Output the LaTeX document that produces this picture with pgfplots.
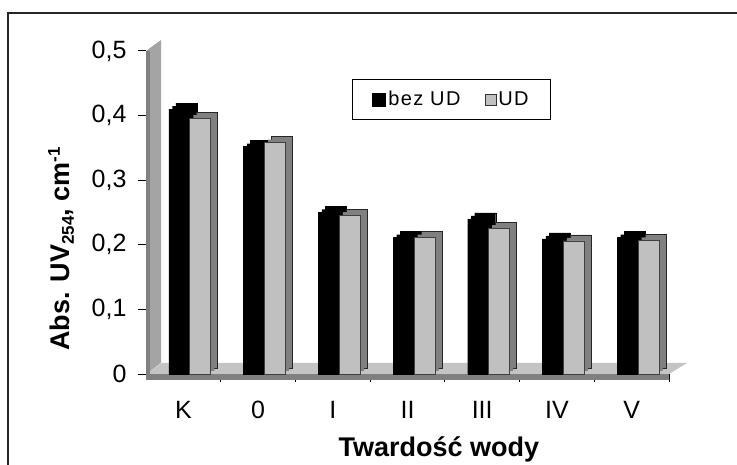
\documentclass[border=0pt]{standalone}
\usepackage{fontspec}
\setmainfont{Liberation Sans}
\newfontfamily\legfont{Liberation Sans}[LetterSpace=7]
\usepackage{pgfplots}
\pgfplotsset{compat=1.18}
\definecolor{barg}{HTML}{C0C0C0}
\definecolor{sideg}{HTML}{808080}
\definecolor{wallg}{HTML}{A4A4A4}
\definecolor{floorg}{HTML}{C4C4C4}
\begin{document}
\begin{tikzpicture}
\useasboundingbox (0,0) rectangle (737bp,465bp);
\fill[white] (0,0) rectangle (737bp,465bp);
\draw[line width=1.6bp, black!85] (8bp,-3bp) -- (8bp,452bp) -- (740bp,452bp);
\begin{axis}[
  at={(146bp,91bp)}, anchor=south west,
  scale only axis, width=523bp, height=323bp,
  xmin=-0.5, xmax=6.5, ymin=0, ymax=0.5,
  clip=false,
  axis x line*=bottom, axis y line*=left,
  x axis line style={draw=none},
  y axis line style={draw=black, line width=1bp, -},
  tick align=outside,
  major tick length=8bp,
  tick style={black, line width=1bp},
  ytick={0,0.1,0.2,0.3,0.4,0.5},
  yticklabels={0,{0,1},{0,2},{0,3},{0,4},{0,5}},
  yticklabel style={font=\fontsize{25bp}{29bp}\selectfont, xshift=-8bp},
  xtick={0.5,1.5,2.5,3.5,4.5,5.5,6.5},
  xticklabels={},
  extra x ticks={0,1,2,3,4,5,6},
  extra x tick labels={K,0,I,II,III,IV,V},
  extra x tick style={major tick length=0pt, xticklabel style={font=\fontsize{25bp}{29bp}\selectfont, anchor=base, yshift=-44bp}},
  xlabel={\bfseries Twardość wody},
  xlabel style={font=\fontsize{27bp}{31bp}\selectfont, at={(axis description cs:0.56,-0.2539)}, anchor=base},
  ylabel={\bfseries Abs. UV\raisebox{-4bp}{\fontsize{17bp}{17bp}\selectfont\bfseries 254}, cm\raisebox{10bp}{\fontsize{17bp}{17bp}\selectfont\bfseries -1}},
  ylabel style={font=\fontsize{27bp}{31bp}\selectfont, at={(axis description cs:-0.1625,0.387)}, anchor=center},
  legend columns=2,
  legend style={at={(axis description cs:0.584,0.851)}, anchor=center, draw=black, line width=1bp,
    font=\fontsize{20bp}{23bp}\legfont\selectfont,
    inner xsep=20bp, inner ysep=10bp,
    /tikz/every even column/.append style={column sep=22bp}},
]
% floor and wall (decoration)
\fill[floorg] (axis cs:-0.5,0) -- (axis cs:6.5,0) -- ([xshift=18bp,yshift=11bp]axis cs:6.5,0) -- ([xshift=16bp,yshift=11bp]axis cs:-0.5,0) -- cycle;
\fill[sideg] (axis cs:-0.5,0) rectangle ([yshift=-6bp]axis cs:6.5,0);
\fill[wallg] (axis cs:-0.5,0) -- (axis cs:-0.5,0.5) -- ([xshift=15bp,yshift=11bp]axis cs:-0.5,0.5) -- ([xshift=15bp,yshift=11bp]axis cs:-0.5,0) -- cycle;
\fill[sideg] (axis cs:-0.5,0) rectangle ([xshift=4bp]axis cs:-0.5,0.5);
% bez UD: depth faces
\addplot[ybar, bar width=21bp, bar shift=3bp, yshift=6bp, fill=black, draw=black, forget plot]
  coordinates {(0,0.41) (1,0.352) (2,0.25) (3,0.211) (4,0.24) (5,0.209) (6,0.211)};
\addplot[ybar, bar width=21bp, bar shift=-0.5bp, yshift=3bp, fill=black, draw=none, forget plot]
  coordinates {(0,0.41) (1,0.352) (2,0.25) (3,0.211) (4,0.24) (5,0.209) (6,0.211)};
\addplot[ybar, bar width=21bp, bar shift=-4bp, fill=black, draw=black,
  legend image code/.code={\draw[fill=black,draw=black] (0bp,-7bp) rectangle (13bp,6bp);}]
  coordinates {(0,0.41) (1,0.352) (2,0.25) (3,0.211) (4,0.24) (5,0.209) (6,0.211)};
\addlegendentry{bez UD}
% UD
\addplot[ybar, bar width=21bp, bar shift=24bp, yshift=6bp, fill=sideg, draw=black!85, line width=0.8bp, forget plot]
  coordinates {(0,0.396) (1,0.358) (2,0.246) (3,0.211) (4,0.226) (5,0.206) (6,0.207)};
\addplot[ybar, bar width=21bp, bar shift=20.5bp, yshift=3bp, fill=sideg, draw=none, forget plot]
  coordinates {(0,0.396) (1,0.358) (2,0.246) (3,0.211) (4,0.226) (5,0.206) (6,0.207)};
\addplot[ybar, bar width=21bp, bar shift=17bp, fill=barg, draw=black!75, line width=0.8bp,
  legend image code/.code={\draw[fill=barg,draw=black!80,line width=0.8bp] (0bp,-6bp) rectangle (11bp,5bp);}]
  coordinates {(0,0.396) (1,0.358) (2,0.246) (3,0.211) (4,0.226) (5,0.206) (6,0.207)};
\addlegendentry{UD}
\end{axis}
\end{tikzpicture}
\end{document}
